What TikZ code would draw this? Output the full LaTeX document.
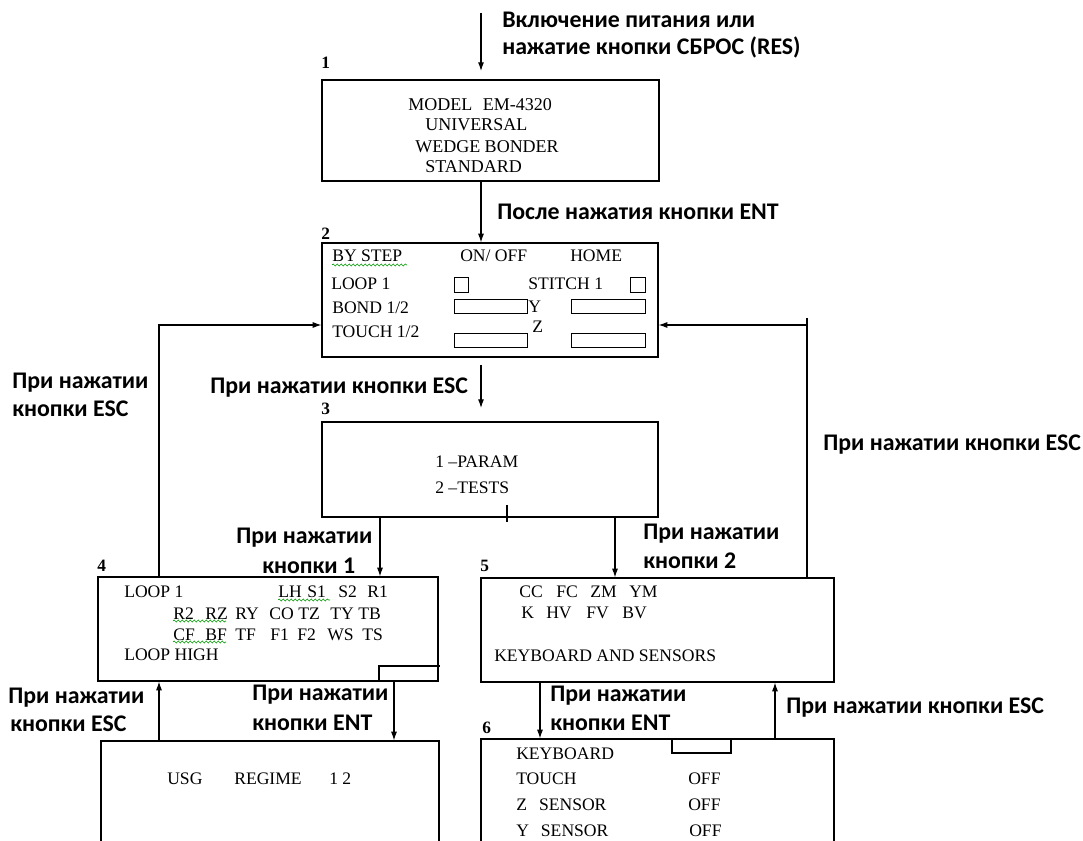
\documentclass[tikz,border=0pt]{standalone}
\usepackage{fontspec}
\setmainfont{Liberation Serif}
\newfontfamily\calib{Carlito}
\usetikzlibrary{arrows.meta,fit,decorations.pathmorphing}
\newcommand\labfont{\calib\bfseries\fontsize{17.9}{20}\selectfont}
\newcommand\boxfont{\fontsize{13.2}{15}\selectfont}
\newcommand\bigboxfont{\fontsize{13.5}{15}\selectfont}
\newcommand\numfont{\bfseries\fontsize{13}{15}\selectfont}
\begin{document}
\begin{tikzpicture}[x=0.75pt,y=-0.75pt,
  lab/.style={font=\labfont, anchor=west, inner sep=0pt, align=left},
  txt/.style={font=\boxfont, anchor=west, inner sep=0pt},
  btxt/.style={font=\bigboxfont, anchor=west, inner sep=0pt},
  num/.style={font=\numfont, anchor=west, inner sep=0pt},
  box/.style={draw, line width=0.9pt, inner sep=0pt},
  arr/.style={-{Latex[length=6.5pt,width=4.5pt]}, line width=0.8pt},
  ln/.style={line width=0.8pt},
  cell/.style={line width=0.7pt},
  squig/.style={draw=green!60!black, decorate, decoration={snake, amplitude=0.8pt, segment length=3pt}, line width=0.45pt}]
\useasboundingbox (0,0) rectangle (1083,841);
\clip (0,0) rectangle (1083,841);

% ---------- boxes ----------
\node[box, fit={(322,80)(659,181)}] (b1) {};
\node[box, fit={(322,243)(658,357)}] (b2) {};
\node[box, fit={(322,422)(658,517)}] (b3) {};
\node[box, fit={(98,577)(438,681)}] (b4) {};
\node[box, fit={(481,578)(834,682)}] (b5) {};
\node[box, fit={(101,741)(439,900)}] (b7) {};
\node[box, fit={(481,739)(834,900)}] (b6) {};

% ---------- numbers ----------
\node[num] (n1) at (321,63) {1};
\node[num] (n2) at (321,234) {2};
\node[num] (n3) at (321,409) {3};
\node[num] (n4) at (97,566) {4};
\node[num] (n5) at (480,566) {5};
\node[num] (n6) at (482,728) {6};

% ---------- box 1 ----------
\node[btxt] (t11) at (408,105) {MODEL\hspace{8pt}EM-4320};
\node[btxt] (t12) at (425,125) {UNIVERSAL};
\node[btxt] (t13) at (415,147) {WEDGE BONDER};
\node[btxt] (t14) at (425,167) {STANDARD};

% ---------- box 2 ----------
\node[txt] (t21) at (332,256) {BY STEP};
\node[txt] (t22) at (460,256) {ON/ OFF};
\node[txt] (t23) at (570,256) {HOME};
\node[txt] (t24) at (331,284) {LOOP 1};
\node[txt] (t25) at (528,284) {STITCH 1};
\node[txt] (t26) at (332,308) {BOND 1/2};
\node[txt] (t27) at (528,307) {Y};
\node[txt] (t28) at (332,332) {TOUCH 1/2};
\node[txt] (t29) at (532,327) {Z};
\draw[cell] (454,277) rectangle (468,292);
\draw[cell] (630,277) rectangle (645,292);
\draw[cell] (454,299) rectangle (527,313);
\draw[cell] (571,299) rectangle (645,313);
\draw[cell] (454,333) rectangle (527,347);
\draw[cell] (571,333) rectangle (645,347);
\draw[squig] (332,265) -- (407,265);

% ---------- box 3 ----------
\node[txt] (t31) at (435,462) {1 --PARAM};
\node[txt] (t32) at (435,488) {2 --TESTS};
\draw[line width=2.2pt] (507,505) -- (507,522);

% ---------- box 4 ----------
\node[txt] (t41) at (124,592) {LOOP 1};
\foreach \x/\t in {278/LH,307/S1,338/S2,367/R1}
  \node[txt] (r1-\x) at (\x,592) {\t};
\foreach \x/\t in {173/R2,205/RZ,235/RY,269/CO,298/TZ,330/TY,358/TB}
  \node[txt] (r2-\x) at (\x,614) {\t};
\foreach \x/\t in {173/CF,205/BF,235/TF,270/F1,297/F2,327/WS,362/TS}
  \node[txt] (r3-\x) at (\x,635) {\t};
\node[txt] (t42) at (124,655) {LOOP HIGH};
\draw[squig] (278,600) -- (330,600);
\draw[squig] (173,621) -- (226,621);
\draw[squig] (173,642) -- (226,642);
\draw[ln] (379,681) -- (379,666) -- (440,666);

% ---------- box 5 ----------
\foreach \x/\t in {519/CC,556/FC,590/ZM,629/YM}
  \node[txt] (r5-\x) at (\x,592) {\t};
\foreach \x/\t in {521/K,546/HV,586/FV,622/BV}
  \node[txt] (r6-\x) at (\x,613) {\t};
\node[txt] (t51) at (494,656) {KEYBOARD AND SENSORS};

% ---------- box 6 ----------
\node[txt] (t61) at (516,754) {KEYBOARD};
\node[txt] (t62) at (516,779) {TOUCH};
\node[txt] (t63) at (516,805) {Z\hspace{9pt}SENSOR};
\node[txt] (t64) at (516,831) {Y\hspace{9pt}SENSOR};
\node[txt] (t65) at (688,779) {OFF};
\node[txt] (t66) at (688,805) {OFF};
\node[txt] (t67) at (689,831) {OFF};
\draw[ln] (672,739) -- (672,753) -- (731,753) -- (731,739);

% ---------- box 7 ----------
\node[txt] (t71) at (167,779) {USG};
\node[txt] (t72) at (234,779) {REGIME};
\node[txt] (t73) at (329,779) {1 2};

% ---------- labels ----------
\node[lab] (L1) at (502,20) {Включение питания или};
\node[lab] (L2) at (502,47) {нажатие кнопки СБРОС (RES)};
\node[lab] (L3) at (497,212) {После нажатия кнопки ENT};
\node[lab] (L4a) at (12,383) {При нажатии};
\node[lab] (L4b) at (12,409) {кнопки ESC};
\node[lab] (L5) at (210,388) {При нажатии кнопки ESC};
\node[lab] (L6a) at (236,538) {При нажатии};
\node[lab] (L6b) at (262,566) {кнопки 1};
\node[lab] (L7a) at (643,534) {При нажатии};
\node[lab] (L7b) at (643,561) {кнопки 2};
\node[lab] (L8) at (823,445) {При нажатии кнопки ESC};
\node[lab] (L9a) at (8,698) {При нажатии};
\node[lab] (L9b) at (10,724) {кнопки ESC};
\node[lab] (L10a) at (252,695) {При нажатии};
\node[lab] (L10b) at (252,723) {кнопки ENT};
\node[lab] (L11a) at (550,696) {При нажатии};
\node[lab] (L11b) at (550,723) {кнопки ENT};
\node[lab] (L12) at (786,708) {При нажатии кнопки ESC};

% ---------- connectors ----------
\coordinate (in0) at (481,13);
\coordinate (in1) at (481,71);
\coordinate (c23a) at (481,365);
\coordinate (c23b) at (481,408);
\coordinate (xa) at (481,0);
\coordinate (x34) at (380,0);
\coordinate (x35) at (615,0);
\coordinate (xL) at (159,0);
\coordinate (xR) at (807,0);
\coordinate (yLoop) at (0,325);
\coordinate (yTop) at (0,318);
\coordinate (x47) at (394,0);
\coordinate (x56) at (540,0);
\coordinate (x65) at (775,0);

\draw[arr] (in0) -- (in1);
\draw[arr] (b1.south -| xa) -- (b2.north -| xa);
\draw[arr] (c23a) -- (c23b);
\draw[arr] (b3.south -| x34) -- (b4.north -| x34);
\draw[arr] (b3.south -| x35) -- (b5.north -| x35);
\draw[arr] (b4.north -| xL) -- (xL |- yLoop) -- (b2.west |- yLoop);
\draw[ln] (b5.north -| xR) -- (xR |- yTop);
\draw[arr] (xR |- yLoop) -- (b2.east |- yLoop);
\draw[arr] (b4.south -| x47) -- (b7.north -| x47);
\draw[arr] (b7.north -| xL) -- (b4.south -| xL);
\draw[arr] (b5.south -| x56) -- (b6.north -| x56);
\draw[arr] (b6.north -| x65) -- (b5.south -| x65);
\end{tikzpicture}
\end{document}
